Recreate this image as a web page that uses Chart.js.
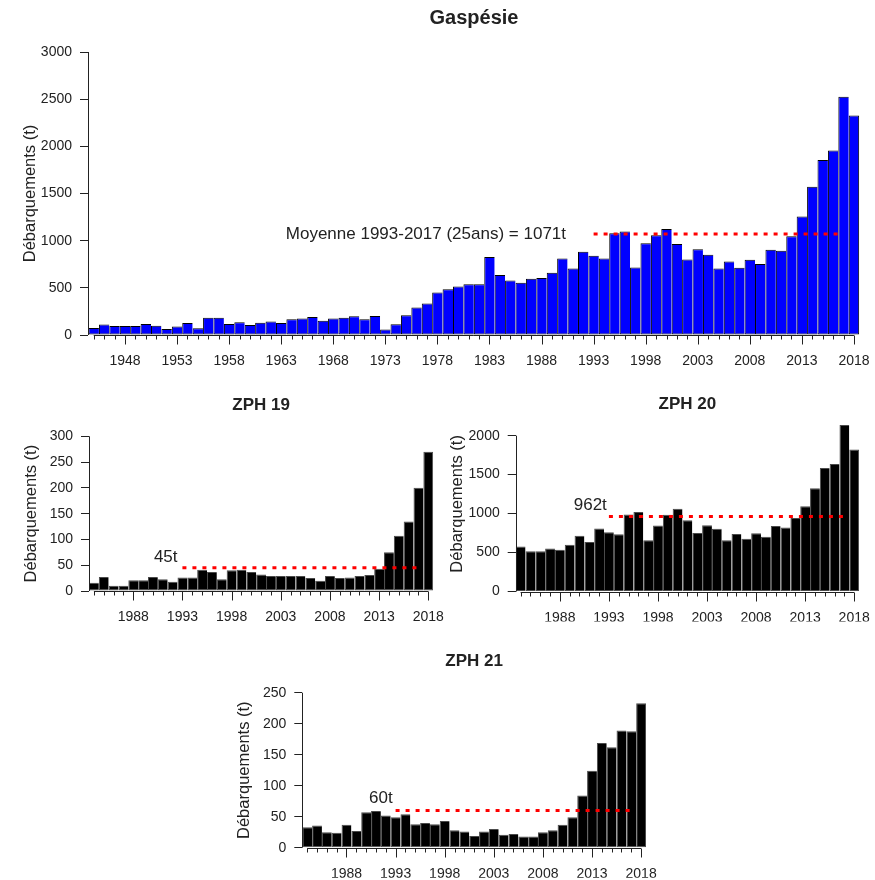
<!DOCTYPE html>
<html><head><meta charset="utf-8">
<script src="https://cdn.jsdelivr.net/npm/chart.js@4.4.1/dist/chart.umd.min.js"></script>
<style>
html,body{margin:0;padding:0;background:#fff;}
#wrap{position:relative;width:875px;height:880px;overflow:hidden;}
canvas{position:absolute;left:0;top:0;}
</style></head><body>
<div id="wrap">
<canvas id="c0" width="875" height="880"></canvas>
<canvas id="c1" width="875" height="880"></canvas>
<canvas id="c2" width="875" height="880"></canvas>
<canvas id="c3" width="875" height="880"></canvas>
</div>
<script>
// ---------- DATA ----------
const yearsGaspesie = [
1945,1946,1947,1948,1949,1950,1951,1952,1953,1954,
1955,1956,1957,1958,1959,1960,1961,1962,1963,1964,
1965,1966,1967,1968,1969,1970,1971,1972,1973,1974,
1975,1976,1977,1978,1979,1980,1981,1982,1983,1984,
1985,1986,1987,1988,1989,1990,1991,1992,1993,1994,
1995,1996,1997,1998,1999,2000,2001,2002,2003,2004,
2005,2006,2007,2008,2009,2010,2011,2012,2013,2014,
2015,2016,2017,2018];
const valuesGaspesie = [
75,110,96,96,96,117,99,64,89,128,
71,184,184,117,135,106,131,142,128,167,
174,191,152,174,184,199,167,202,57,113,
209,291,333,450,486,514,539,539,826,635,
578,553,596,603,660,812,706,883,840,812,
1078,1096,716,972,1057,1124,965,801,908,851,
706,780,713,798,752,904,894,1046,1255,1571,
1855,1957,2525,2326];
const yearsZPH = [
1984,1985,1986,1987,1988,1989,1990,1991,1992,1993,
1994,1995,1996,1997,1998,1999,2000,2001,2002,2003,
2004,2005,2006,2007,2008,2009,2010,2011,2012,2013,
2014,2015,2016,2017,2018];
const valuesZPH19 = [
16,27,10,10,21,21,27,23,18,26,
26,41,37,23,40,41,37,32,29,29,
29,29,25,20,29,25,26,29,31,43,
75,107,135,200,270];
const valuesZPH20 = [
579,518,518,553,536,600,717,635,808,760,
734,989,1020,657,847,985,1063,916,752,851,
804,657,739,678,747,704,842,821,942,1093,
1326,1585,1637,2138,1823];
const valuesZPH21 = [
33,36,25,24,37,27,57,59,52,49,
54,38,40,38,43,28,26,19,26,30,
21,22,18,18,25,28,37,49,84,124,
169,162,189,188,233];
const yTicksGaspesie = [0,500,1000,1500,2000,2500,3000];
const yTicksZPH19 = [0,50,100,150,200,250,300];
const yTicksZPH20 = [0,500,1000,1500,2000];
const yTicksZPH21 = [0,50,100,150,200,250];
const xLabelsGaspesie = ['1948','1953','1958','1963','1968','1973','1978','1983','1988','1993','1998','2003','2008','2013','2018'];
const xLabelsZPH = ['1988','1993','1998','2003','2008','2013','2018'];
const meanPeriod = [1993, 2017];
const meanGaspesie = 1071, meanZPH19 = 45, meanZPH20 = 962, meanZPH21 = 60;
const yAxisTitle = 'Débarquements (t)';

// ---------- STYLE / LAYOUT ----------
const FONT = "'Liberation Sans', Arial, Helvetica, sans-serif";
const TXT = '#222';
const Y_AXIS_W = 60, X_AXIS_H = 30;

const panels = [
  {id:'c0', title:'Gaspésie', titleSize:20, titleY:18,
   years:yearsGaspesie, values:valuesGaspesie, fill:'#0000FF', edge:'#000',
   yTicks:yTicksGaspesie, yMax:3000, xLabels:xLabelsGaspesie, xMin:1944.45, xMax:2018.58,
   pad:{left:28, right:15, top:52, bottom:880-335-X_AXIS_H},
   mean:meanGaspesie, label:'Moyenne 1993-2017 (25ans) = 1071t', labelX:1990.35, labelY:1071, labelAlign:'right'},
  {id:'c1', title:'ZPH 19', titleSize:17, titleY:405,
   years:yearsZPH, values:valuesZPH19, fill:'#000', edge:'#4a4a4a',
   yTicks:yTicksZPH19, yMax:300, xLabels:xLabelsZPH, xMin:1983.5, xMax:2018.5,
   pad:{left:29, right:441.8, top:436.3, bottom:880-591-X_AXIS_H},
   mean:meanZPH19, label:'45t', labelX:1991.3, labelY:66, labelAlign:'center'},
  {id:'c2', title:'ZPH 20', titleSize:17, titleY:404,
   years:yearsZPH, values:valuesZPH20, fill:'#000', edge:'#4a4a4a',
   yTicks:yTicksZPH20, yMax:2250, xLabels:xLabelsZPH, xMin:1983.5, xMax:2018.5,
   pad:{left:455.7, right:15.9, top:416.2, bottom:880-591.5-X_AXIS_H},
   mean:meanZPH20, label:'962t', labelX:1991.1, labelY:1110, labelAlign:'center'},
  {id:'c3', title:'ZPH 21', titleSize:17, titleY:661,
   years:yearsZPH, values:valuesZPH21, fill:'#000', edge:'#4a4a4a',
   yTicks:yTicksZPH21, yMax:250, xLabels:xLabelsZPH, xMin:1983.5, xMax:2018.5,
   pad:{left:242.3, right:229, top:692.7, bottom:880-847.7-X_AXIS_H},
   mean:meanZPH21, label:'60t', labelX:1991.5, labelY:80, labelAlign:'center'}
];

Chart.defaults.font.family = FONT;
Chart.defaults.color = TXT;

function makeChart(p) {
  const n = p.years.length;
  const deco = {
    id: 'deco_' + p.id,
    afterDraw(chart) {
      const ctx = chart.ctx, xs = chart.scales.x, ys = chart.scales.y, ca = chart.chartArea;
      const y0 = Math.round(ys.getPixelForValue(0)) + 0.5;
      ctx.save();
      ctx.strokeStyle = '#222'; ctx.lineWidth = 1;
      // y axis line (from 0 to last tick)
      const ax = Math.round(ca.left) + 0.5;
      ctx.beginPath();
      ctx.moveTo(ax, ys.getPixelForValue(p.yTicks[0]));
      ctx.lineTo(ax, ys.getPixelForValue(p.yTicks[p.yTicks.length - 1]));
      ctx.stroke();
      // x axis tick marks, one per year, longer at labelled years
      ctx.beginPath();
      ctx.moveTo(xs.getPixelForValue(p.years[0]), y0);
      ctx.lineTo(xs.getPixelForValue(p.years[n - 1]), y0);
      p.years.forEach(yr => {
        const px = Math.round(xs.getPixelForValue(yr)) + 0.5;
        const major = p.xLabels.includes(String(yr));
        ctx.moveTo(px, y0);
        ctx.lineTo(px, y0 + (major ? 9 : 4));
      });
      ctx.stroke();
      // texts
      ctx.fillStyle = TXT;
      ctx.textAlign = 'center'; ctx.textBaseline = 'middle';
      ctx.font = 'bold ' + p.titleSize + 'px ' + FONT;
      ctx.fillText(p.title, (ca.left + ca.right) / 2, p.titleY);
      ctx.save();
      ctx.translate(ca.left - 58, (ca.top + ca.bottom) / 2);
      ctx.rotate(-Math.PI / 2);
      ctx.font = '16.5px ' + FONT;
      ctx.fillText(yAxisTitle, 0, 0);
      ctx.restore();
      ctx.font = '17px ' + FONT;
      ctx.textAlign = p.labelAlign;
      ctx.fillText(p.label, xs.getPixelForValue(p.labelX), ys.getPixelForValue(p.labelY));
      ctx.restore();
    }
  };
  return new Chart(document.getElementById(p.id), {
    data: {
      datasets: [
        {type:'line', data:[{x:meanPeriod[0], y:p.mean},{x:meanPeriod[1], y:p.mean}],
         borderColor:'#FF0000', borderWidth:3, borderDash:[4,6], pointRadius:0, fill:false, order:1},
        {type:'bar', data:p.years.map((y,i)=>({x:y, y:p.values[i]})),
         backgroundColor:p.fill, borderColor:p.edge,
         borderWidth:p.years.map((_,i)=>({top:1, left:1, bottom:1, right:(i===n-1?1:0)})),
         borderSkipped:false, barPercentage:1, categoryPercentage:1, inflateAmount:0, order:2}
      ]
    },
    options: {
      responsive:false, animation:false, devicePixelRatio:1, events:[],
      layout:{padding:p.pad},
      plugins:{legend:{display:false}, tooltip:{enabled:false}, title:{display:false}},
      scales: {
        x: {
          type:'linear', min:p.xMin, max:p.xMax, offset:false,
          afterBuildTicks: s => { s.ticks = p.xLabels.map(v => ({value:+v})); },
          afterFit: s => { s.height = X_AXIS_H; s.paddingLeft = 0; s.paddingRight = 0; },
          grid:{display:false, drawTicks:false}, border:{display:false},
          ticks:{autoSkip:false, maxRotation:0, minRotation:0, padding:18, color:TXT,
                 font:{size:14}, callback: v => String(v)}
        },
        y: {
          type:'linear', min:0, max:p.yMax,
          afterBuildTicks: s => { s.ticks = p.yTicks.map(v => ({value:v})); },
          afterFit: s => { s.width = Y_AXIS_W; s.paddingTop = 0; s.paddingBottom = 0; },
          grid:{display:true, drawOnChartArea:false, drawTicks:true, tickLength:8, color:'#222', lineWidth:1},
          border:{display:false},
          ticks:{autoSkip:false, padding:8, color:TXT, font:{size:14}, callback: v => String(v)}
        }
      }
    },
    plugins:[deco]
  });
}
panels.forEach(makeChart);
</script>
</body></html>
